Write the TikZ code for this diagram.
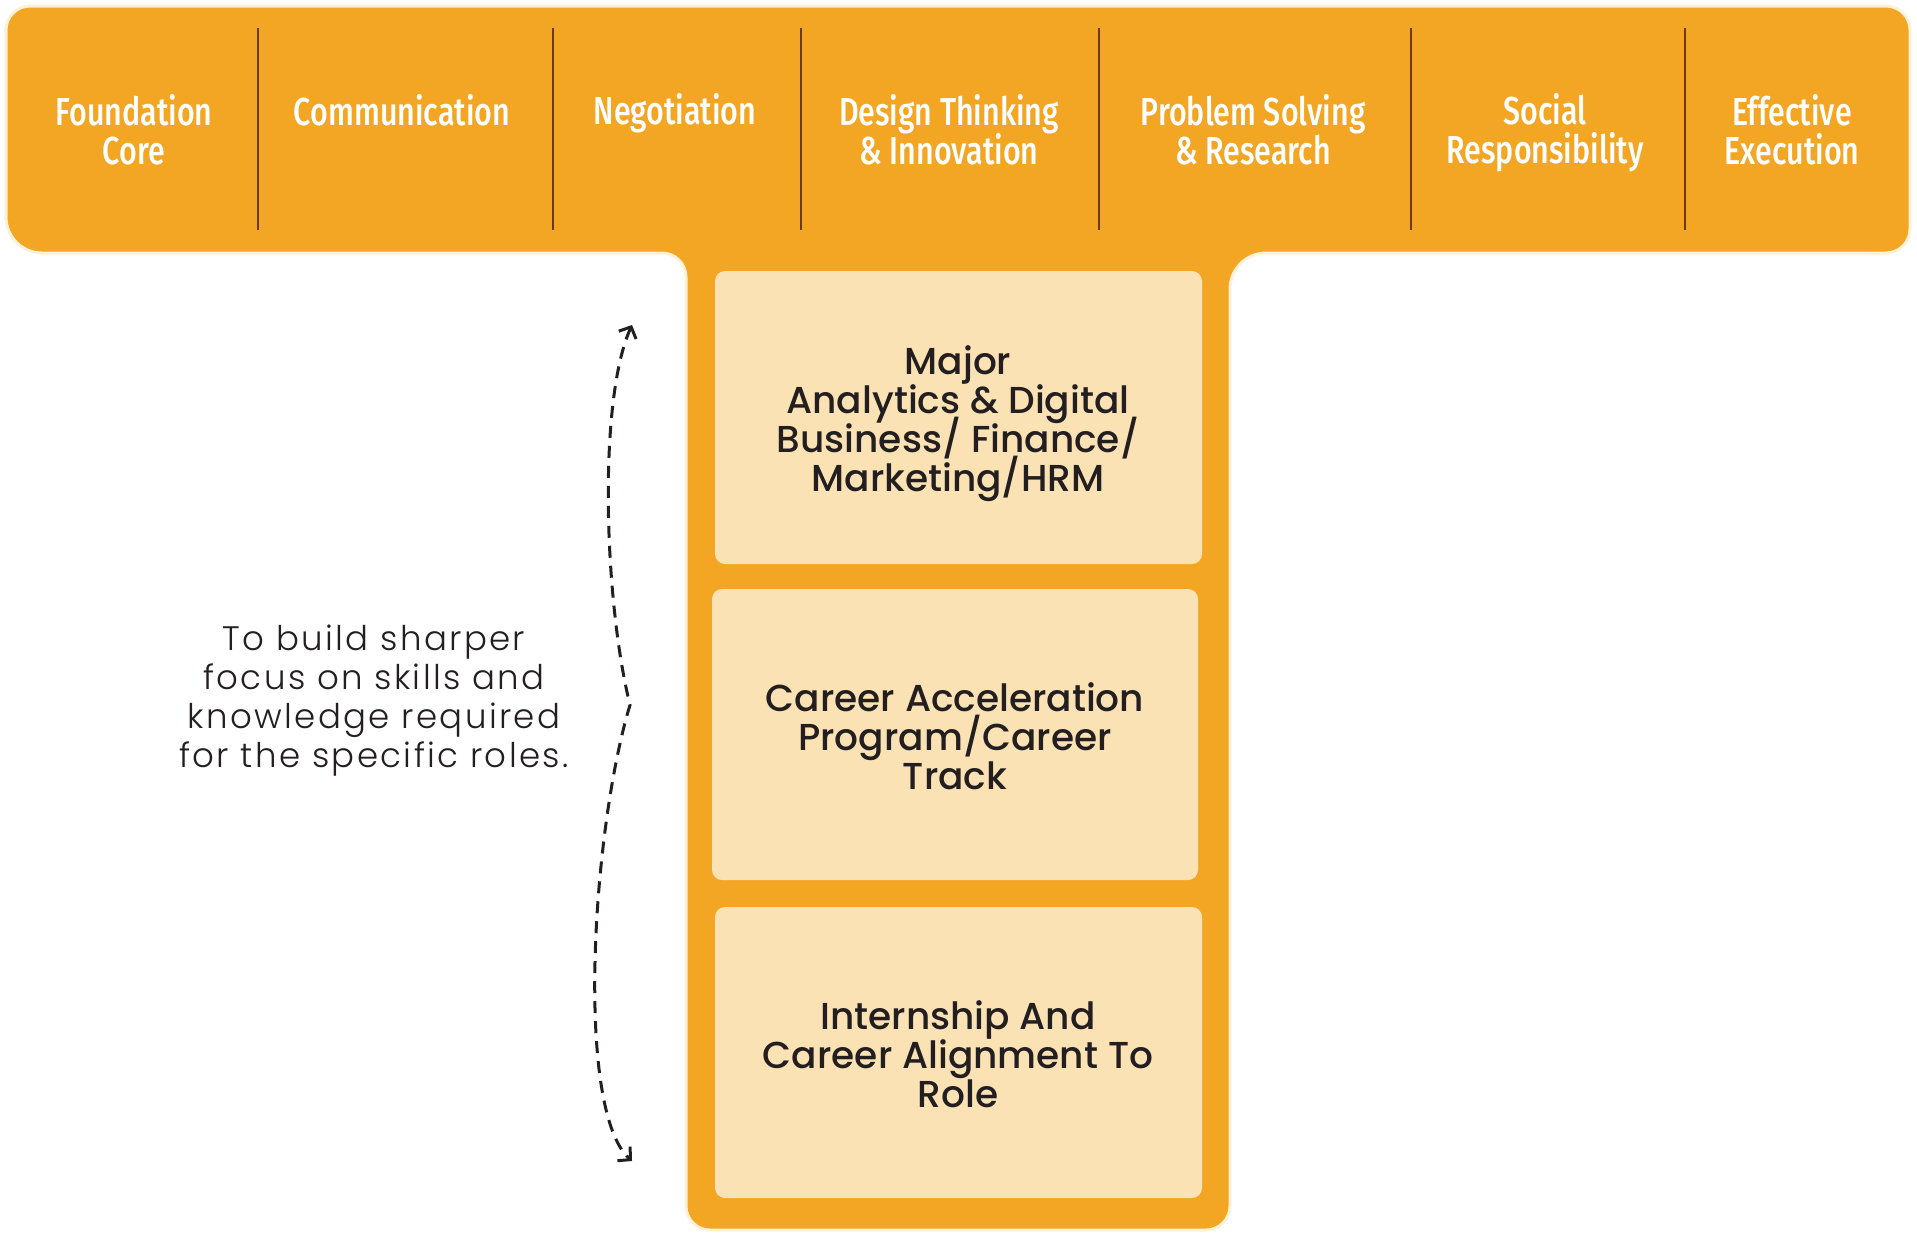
\documentclass[tikz,border=0pt]{standalone}
\usepackage{fontspec}
\usetikzlibrary{arrows.meta}
\newfontfamily\topfont[FakeStretch=0.78]{Fira Sans Medium}
\newfontfamily\boxfont{Poppins Medium}
\newfontfamily\notefont[LetterSpace=7]{Poppins Light}
\newcommand\tightlines{\lineskiplimit=-100pt\relax}
\definecolor{tOrange}{HTML}{F3A623}
\definecolor{tCream}{HTML}{FBE2B4}
\definecolor{tGlow}{HTML}{FDF1D8}
\definecolor{tDiv}{HTML}{6B3A1A}
\definecolor{tInk}{HTML}{231F20}
\tikzset{
  toplabel/.style={text=white, align=center, font=\topfont\fontsize{39}{39}\selectfont, inner sep=0pt, execute at begin node=\tightlines},
  boxlabel/.style={text=tInk, align=center, font=\boxfont\fontsize{37.5}{39}\selectfont, inner sep=0pt, execute at begin node=\tightlines},
  notelabel/.style={text=tInk, align=center, font=\notefont\fontsize{34}{39}\selectfont, inner sep=0pt, execute at begin node=\tightlines},
  creambox/.style={fill=tCream, rounded corners=10pt},
  divider/.style={draw=tDiv, line width=1.6pt},
  dasharrow/.style={draw=tInk, line width=3pt, dash pattern=on 12pt off 8pt, {Straight Barb[length=9pt,width=19pt]}-{Straight Barb[length=9pt,width=19pt]}}
}
\begin{document}
\begin{tikzpicture}[x=1pt,y=-1pt]
\useasboundingbox (0,0) rectangle (1917,1237);
% T shape
\path[fill=tOrange, draw=tGlow, line width=3pt, rounded corners=24pt]
  (6,6) -- (1910,6) -- (1910,253) [rounded corners=36pt]-- (1230,253) [rounded corners=24pt]-- (1230,1230)
  -- (686,1230) -- (686,253) [rounded corners=36pt]-- (6,253) [rounded corners=24pt]-- cycle;
% dividers
\foreach \x/\n in {258/d1,553/d2,801/d3,1099/d4,1411/d5,1685/d6}{
  \coordinate (\n t) at (\x,28);
  \coordinate (\n b) at (\x,230);
  \draw[divider] (\n t) -- (\n b);
}
% top labels
\node[toplabel] (fc) at (134,130) {Foundation\\Core};
\node[toplabel] (com) at (402,110) {Communication};
\node[toplabel] (neg) at (675,113) {Negotiation};
\node[toplabel] (dt) at (949,130) {Design Thinking\\\& Innovation};
\node[toplabel] (ps) at (1253,130) {Problem Solving\\\& Research};
\node[toplabel] (sr) at (1545,133) {Social\\Responsibility};
\node[toplabel] (ee) at (1792,130) {Effective\\Execution};
% cream boxes
\path[creambox] (715,271) rectangle (1202,564);
\path[creambox] (712,589) rectangle (1198,880);
\path[creambox] (715,907) rectangle (1202,1198);
\node[boxlabel] (major) at (958,423.5) {Major\\Analytics \& Digital\\Business/ Finance/\\Marketing/HRM};
\node[boxlabel] (cap) at (955,736) {Career Acceleration\\Program/Career\\Track};
\node[boxlabel] (intern) at (958,1054) {Internship And\\Career Alignment To\\Role};
% note
\node[notelabel] (note) at (374,701) {To build sharper\\focus on skills and\\knowledge required\\for the specific roles.};
% dashed arrow
\coordinate (atop) at (632,325);
\coordinate (amid) at (630,705);
\coordinate (abot) at (632,1161);
\draw[dasharrow] (atop) .. controls (598,400) and (604,600) .. (amid)
  .. controls (592,830) and (575,1110) .. (abot);
\end{tikzpicture}
\end{document}
